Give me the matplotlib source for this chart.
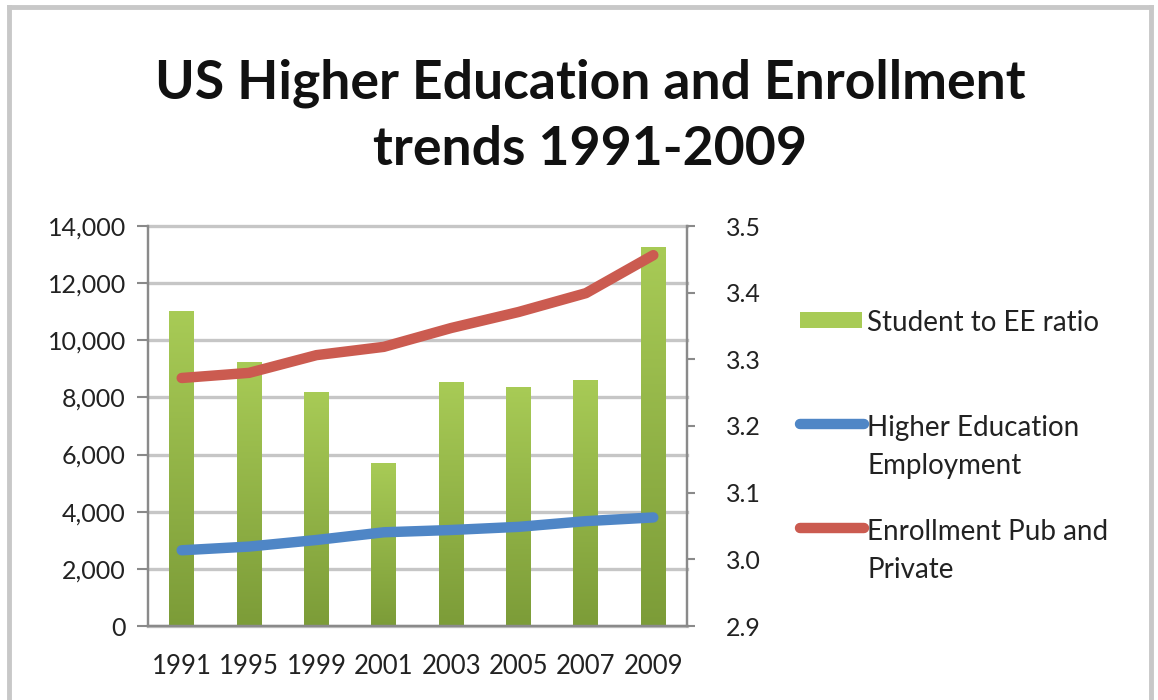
import numpy as np
import matplotlib.pyplot as plt
from matplotlib.lines import Line2D
from matplotlib.patches import Rectangle
from matplotlib.transforms import blended_transform_factory

years = ["1991", "1995", "1999", "2001", "2003", "2005", "2007", "2009"]
ratio = [3.372, 3.296, 3.251, 3.144, 3.266, 3.259, 3.269, 3.469]
employment = [2650, 2780, 3010, 3280, 3360, 3470, 3670, 3800]
enrollment = [8680, 8860, 9480, 9770, 10430, 10990, 11650, 12980]

series_names = [["Student to EE ratio"], ["Higher Education", "Employment"],
                ["Enrollment Pub and", "Private"]]

FONT = ["Lato", "DejaVu Sans"]
plt.rcParams["font.family"] = FONT

GREEN_TOP = np.array([0xA8, 0xCB, 0x56]) / 255
GREEN_BOT = np.array([0x7C, 0x9C, 0x38]) / 255
BLUE = "#4F86C6"
RED = "#CB5B50"
GRID = "#C6C6C6"
SPINE = "#8A8A8A"
TXT = "#222222"

W, H = 1158, 700
fig = plt.figure(figsize=(W / 100, H / 100), dpi=100)


def fx(px):
    return px / W


def fy(py):
    return 1 - py / H


# outer frame
for xs, ys in [([9, 9], [700, 7]), ([9, 1151], [7, 7]), ([1151, 1151], [7, 700])]:
    fig.add_artist(Line2D([fx(v) for v in xs], [fy(v) for v in ys],
                          color="#C8C8C8", lw=3.5, transform=fig.transFigure))

fig.text(fx(590), fy(116), "US Higher Education and Enrollment\ntrends 1991-2009",
         ha="center", va="center", fontsize=38.5, fontweight="bold",
         linespacing=1.42, color="#111111")

ax = fig.add_axes([fx(148), fy(626), fx(687 - 148), (626 - 226) / H])
ax_r = ax.twinx()
ax.set_zorder(ax_r.get_zorder() + 1)
ax.patch.set_visible(False)

x = np.arange(len(years))
bw = 0.37

ax.set_xlim(-0.5, len(years) - 0.5)
ax.set_ylim(0, 14000)
ax_r.set_ylim(2.9, 3.5)

# gridlines (left-axis values) drawn behind bars
left_ticks = np.arange(0, 14001, 2000)
tr = blended_transform_factory(ax_r.transAxes, ax.transData)
for v in left_ticks:
    ax_r.plot([0, 1], [v, v], color=GRID, lw=2.4, transform=tr, zorder=0,
              clip_on=False)

# bars with vertical gradient
grad = np.linspace(0, 1, 256)[:, None, None]
grad_img = GREEN_BOT * (1 - grad) + GREEN_TOP * grad
bars = ax_r.bar(x, np.array(ratio) - 2.9, bottom=2.9, width=bw,
                color=GREEN_TOP, zorder=2)
for b in bars:
    x0, y0 = b.get_x(), b.get_y()
    x1, y1 = x0 + b.get_width(), y0 + b.get_height()
    im = ax_r.imshow(grad_img, extent=[x0, x1, y0, y1], origin="lower",
                     aspect="auto", zorder=2.5)
    im.set_clip_path(b)
ax_r.set_xlim(-0.5, len(years) - 0.5)
ax_r.set_ylim(2.9, 3.5)

ax.plot(x, employment, color=BLUE, lw=7.5, solid_capstyle="round", zorder=3)
ax.plot(x, enrollment, color=RED, lw=7.5, solid_capstyle="round", zorder=3)

# axes styling
ax.set_yticks(left_ticks)
ax.set_yticklabels([f"{v:,}" for v in left_ticks])
right_ticks = np.round(np.arange(2.9, 3.51, 0.1), 1)
ax_r.set_yticks(right_ticks)
ax_r.set_yticklabels([f"{v:.1f}" for v in right_ticks])

ax.set_xticks(np.arange(len(years) + 1) - 0.5)
ax.set_xticklabels([])
ax.set_xticks(x, minor=True)
ax.set_xticklabels(years, minor=True)
ax.tick_params(axis="x", which="major", length=8, width=1.5, color=SPINE)
ax.tick_params(axis="x", which="minor", length=0, pad=20, labelsize=18.5,
               labelcolor=TXT)
ax.tick_params(axis="y", length=8, width=1.5, color=SPINE, labelsize=18,
               labelcolor=TXT, pad=8)
ax_r.tick_params(axis="y", length=6, width=1.5, color=SPINE, labelsize=18,
                 labelcolor=TXT, pad=22)
ax_r.set_xticks([])

for a in (ax, ax_r):
    a.spines["top"].set_visible(False)
    for s in ("left", "right", "bottom"):
        a.spines[s].set_color(SPINE)
        a.spines[s].set_linewidth(1.6)

# legend: key aligned with first text line, as in the spreadsheet chart
fig.add_artist(Rectangle((fx(800), fy(328)), fx(62), 16 / H,
                         facecolor=GREEN_TOP, edgecolor="none",
                         transform=fig.transFigure))
for yk, col in [(424, BLUE), (528, RED)]:
    fig.add_artist(Line2D([fx(800), fx(864)], [fy(yk), fy(yk)], color=col,
                          lw=7.5, solid_capstyle="round",
                          transform=fig.transFigure))
for ytop, lines in zip([323, 428, 532], series_names):
    for i, line in enumerate(lines):
        fig.text(fx(867), fy(ytop + 38 * i), line, ha="left", va="center",
                 fontsize=20, color=TXT)

fig.savefig("out.png", dpi=100)
